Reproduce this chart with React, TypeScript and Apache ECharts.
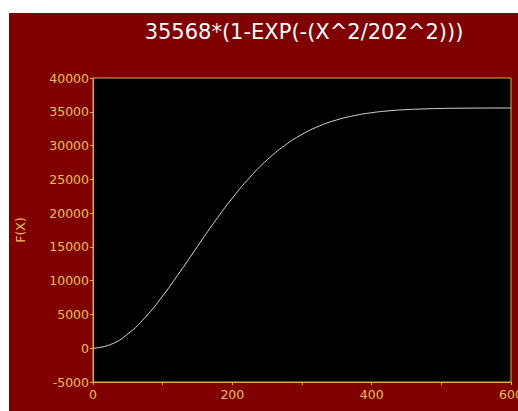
import React, { useEffect, useRef } from "react";
import * as echarts from "echarts";

const titleText = "35568*(1-EXP(-(X^2/202^2)))";
const xValues = [0, 25, 50, 75, 100, 125, 150, 175, 200, 225, 250, 275, 300, 325, 350, 375, 400, 425, 450, 475, 500, 525, 550, 575, 600];
const fValues = [0, 541, 2114, 4580, 7731, 11314, 15076, 18776, 22222, 25282, 27879, 29994, 31649, 32896, 33801, 34435, 34863, 35143, 35319, 35427, 35490, 35527, 35547, 35557, 35563];
const xTickLabels = [0, 200, 400, 600];

export default function App() {
  const ref = useRef<HTMLDivElement>(null);
  useEffect(() => {
    if (!ref.current) return;
    const chart = echarts.init(ref.current, null, { renderer: "svg" });
    const yellow = "#d8b038";
    const labelColor = "#e6c25a";
    const font = "DejaVu Sans, Verdana, sans-serif";
    chart.setOption({
      animation: false,
      backgroundColor: "#800000",
      title: {
        text: titleText,
        left: 290,
        textAlign: "center",
        top: 3,
        textStyle: { color: "#ffffff", fontSize: 21, fontWeight: "normal", fontFamily: font },
      },
      grid: {
        left: 84,
        top: 65,
        right: 7,
        bottom: 29,
        containLabel: false,
        outerBoundsMode: "none",
        show: true,
        backgroundColor: "#000000",
        borderColor: yellow,
        borderWidth: 1,
      },
      xAxis: {
        type: "value",
        min: 0,
        max: 600,
        interval: 100,
        name: "X",
        nameLocation: "middle",
        nameGap: 28,
        nameTextStyle: { color: labelColor, fontSize: 12.5, fontFamily: font },
        axisLine: { show: true, onZero: false, lineStyle: { color: yellow, width: 1 } },
        axisTick: { show: true, length: 3, lineStyle: { color: yellow } },
        splitLine: { show: false },
        axisLabel: {
          color: labelColor,
          fontSize: 12.5,
          fontFamily: font,
          margin: 6,
          formatter: (v: number) => (xTickLabels.indexOf(v) >= 0 ? String(v) : ""),
        },
      },
      yAxis: {
        type: "value",
        min: -5000,
        max: 40000,
        interval: 5000,
        name: "F(X)",
        nameLocation: "middle",
        nameGap: 66,
        nameTextStyle: { color: labelColor, fontSize: 12.5, fontFamily: font },
        axisLine: { show: true, onZero: false, lineStyle: { color: yellow, width: 1 } },
        axisTick: { show: true, length: 3, lineStyle: { color: yellow } },
        splitLine: { show: false },
        axisLabel: {
          color: labelColor,
          fontSize: 12.5,
          fontFamily: font,
          margin: 4,
          formatter: (v: number) => String(v),
        },
      },
      series: [
        {
          type: "line",
          data: xValues.map((x, i) => [x, fValues[i]]),
          smooth: true,
          showSymbol: false,
          lineStyle: { color: "#d8d8d8", width: 1 },
        },
      ],
    });
    return () => chart.dispose();
  }, []);
  return (
    <div
      ref={ref}
      style={{ position: "absolute", left: 9, top: 13, width: 509, height: 398 }}
    />
  );
}
